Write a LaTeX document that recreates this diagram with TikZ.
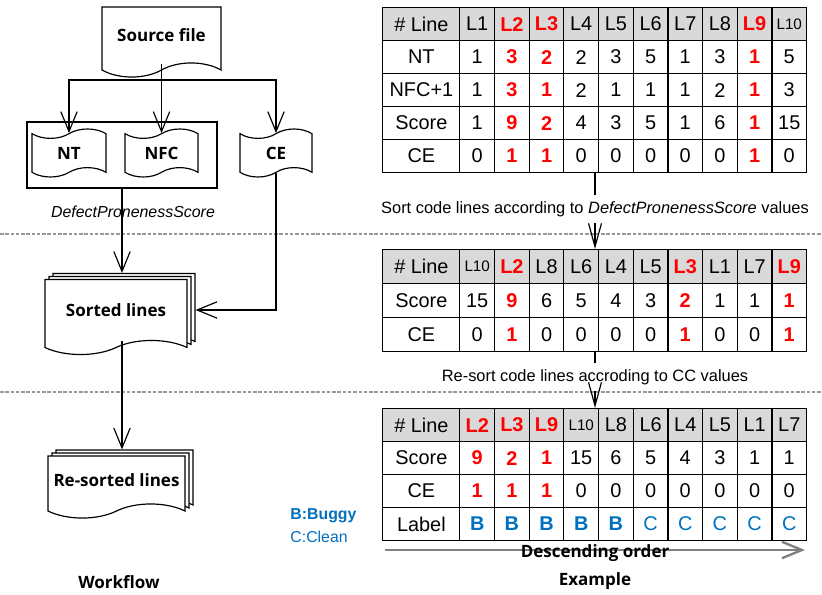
\documentclass[tikz,border=0pt]{standalone}
\usepackage{fontspec}
\setmainfont{Liberation Sans}
\newfontfamily\labelfont{Open Sans}
\usepackage{tikz}
\usetikzlibrary{
  arrows.meta,
  positioning,
  shapes.symbols,
  calc
}
\usepackage{xcolor}
\definecolor{cellGray}{rgb}{0.85,0.85,0.85}
\definecolor{hotRed}{rgb}{1,0,0}
\definecolor{labelBlue}{rgb}{0,0.44,0.75}
\definecolor{guideGray}{rgb}{0.6,0.6,0.6}
\definecolor{orderGray}{rgb}{0.5,0.5,0.5}
\newcommand{\hotVal}[1]{\textcolor{hotRed}{\bfseries #1}}
\newcommand{\buggyVal}[1]{\textcolor{labelBlue}{\bfseries #1}}
\newcommand{\cleanVal}[1]{\textcolor{labelBlue}{#1}}
\newcommand{\smallLab}[1]{{\fontsize{13}{13}\selectfont #1}}
\newcommand{\tableRow}[5]{%
  \foreach \val [count=\col from 0] in {#5}{%
    \pgfmathsetmacro{\cx}{\col==0 ? 382.3 : 459.3+(\col-1)*34.67}%
    \pgfmathsetmacro{\cw}{\col==0 ? 77 : 34.67}%
    \node[cellbox, #4, minimum width=\cw*0.03cm, anchor=north west]
      (#1-#2-\col) at (\cx,#3) {\val};%
  }}
\newcommand{\docStack}[5]{%
  \node[docshape, minimum width=#3, minimum height=#4] (#1-b2) at ($#2+(8,-6)$) {};
  \node[docshape, minimum width=#3, minimum height=#4] (#1-b1) at ($#2+(4,-3)$) {};
  \node[docshape, minimum width=#3, minimum height=#4] (#1) at #2 {#5};}
\tikzset{
  cellbox/.style={
    draw,
    line width=1pt,
    minimum height=33*0.03cm,
    inner sep=0pt,
    font=\fontsize{17}{17}\selectfont
  },
  headrow/.style={fill=cellGray},
  tallrow/.style={minimum height=34*0.03cm}
}
\tikzset{
  docshape/.style={
    tape,
    tape bend top=none,
    tape bend height=12pt,
    draw,
    fill=white,
    inner sep=2pt,
    font=\labelfont\bfseries\fontsize{14.5}{15}\selectfont
  },
  tapebox/.style={
    tape,
    tape bend height=8pt,
    draw,
    fill=white,
    inner sep=2pt,
    font=\labelfont\bfseries\fontsize{14.5}{15}\selectfont
  },
  note/.style={
    inner xsep=0pt,
    inner ysep=5pt,
    font=\fontsize{14}{14}\selectfont
  },
  guide/.style={guideGray, dash pattern=on 3pt off 1.5pt},
  noteArrow/.style={-{Straight Barb[length=20pt,width=11pt]}},
  orderArrow/.style={orderGray, line width=2.5pt,
    -{Straight Barb[length=17pt,width=14pt,line width=2pt]}},
  title/.style={font=\labelfont\bfseries\fontsize{14.5}{15}\selectfont}
}

\begin{document}
\begin{tikzpicture}[x=0.03cm, y=-0.03cm, line width=1pt,
    >={Straight Barb[length=17pt,width=14pt]}]
  \useasboundingbox (0,0) rectangle (822,594);

  \draw[guide] (0,234) -- (822,234);
  \draw[guide] (0,392) -- (822,392);

  % workflow
  \node[docshape, minimum width=119*0.03cm, minimum height=70*0.03cm] (src)
    at (161.5,35) {Source file};
  \node[draw, minimum width=190*0.03cm, minimum height=66*0.03cm] (dps)
    at (122,155) {};
  \node[tapebox, minimum width=74*0.03cm, minimum height=48*0.03cm] (nt)
    at (69,153) {NT};
  \node[tapebox, minimum width=73*0.03cm, minimum height=48*0.03cm] (nfc)
    at (161.5,153) {NFC};
  \node[tapebox, minimum width=72*0.03cm, minimum height=48*0.03cm] (ce)
    at (276,153) {CE};
  \node[font=\itshape\fontsize{13.6}{14}\selectfont] (dpsname)
    at (133,212) {DefectPronenessScore};
  \docStack{sorted}{(116,310)}{142*0.03cm}{75*0.03cm}{Sorted lines}
  \docStack{resorted}{(116.5,480)}{137*0.03cm}{62*0.03cm}{Re-sorted lines}

  \coordinate (fork) at (161.5,80);
  \draw[->] (src.south) -- (nfc.north);
  \draw[->] (fork) -| (nt.north);
  \draw[->] (fork) -| (ce.north);
  \draw[->] (dps.south) -- (dps.south |- sorted-b2.north);
  \draw[->] (ce.south) |- (sorted-b2.east |- sorted.east);
  \draw[->] (dps.south |- sorted.south) -- (dps.south |- resorted-b2.north);

  \node[anchor=west, text=labelBlue, font=\bfseries\fontsize{13.5}{14}\selectfont]
    (buggy) at (286,516) {B:Buggy};
  \node[anchor=west, text=labelBlue, font=\fontsize{13.5}{14}\selectfont]
    (clean) at (286,537) {C:Clean};
  \node[title] (workflow) at (119,582) {Workflow};

  % example tables
  \tableRow{ta}{0}{7}{headrow}{\# Line, L1, \hotVal{L2}, \hotVal{L3}, L4, L5, L6, L7, L8, \hotVal{L9}, \smallLab{L10}}
  \tableRow{ta}{1}{40}{}{NT, 1, \hotVal{3}, \hotVal{2}, 2, 3, 5, 1, 3, \hotVal{1}, 5}
  \tableRow{ta}{2}{73}{}{NFC+1, 1, \hotVal{3}, \hotVal{1}, 2, 1, 1, 1, 2, \hotVal{1}, 3}
  \tableRow{ta}{3}{106}{}{Score, 1, \hotVal{9}, \hotVal{2}, 4, 3, 5, 1, 6, \hotVal{1}, 15}
  \tableRow{ta}{4}{139}{}{CE, 0, \hotVal{1}, \hotVal{1}, 0, 0, 0, 0, 0, \hotVal{1}, 0}

  \tableRow{tb}{0}{249}{headrow, tallrow}{\# Line, \smallLab{L10}, \hotVal{L2}, L8, L6, L4, L5, \hotVal{L3}, L1, L7, \hotVal{L9}}
  \tableRow{tb}{1}{283}{tallrow}{Score, 15, \hotVal{9}, 6, 5, 4, 3, \hotVal{2}, 1, 1, \hotVal{1}}
  \tableRow{tb}{2}{317}{tallrow}{CE, 0, \hotVal{1}, 0, 0, 0, 0, \hotVal{1}, 0, 0, \hotVal{1}}

  \tableRow{tc}{0}{408}{headrow}{\# Line, \hotVal{L2}, \hotVal{L3}, \hotVal{L9}, \smallLab{L10}, L8, L6, L4, L5, L1, L7}
  \tableRow{tc}{1}{441}{}{Score, \hotVal{9}, \hotVal{2}, \hotVal{1}, 15, 6, 5, 4, 3, 1, 1}
  \tableRow{tc}{2}{474}{}{CE, \hotVal{1}, \hotVal{1}, \hotVal{1}, 0, 0, 0, 0, 0, 0, 0}
  \tableRow{tc}{3}{507}{}{Label, \buggyVal{B}, \buggyVal{B}, \buggyVal{B}, \buggyVal{B}, \buggyVal{B}, \cleanVal{C}, \cleanVal{C}, \cleanVal{C}, \cleanVal{C}, \cleanVal{C}}

  \node[note] (sortnote) at (595,209)
    {Sort code lines according to \textit{DefectPronenessScore} values};
  \node[note] (resortnote) at (595,377)
    {Re-sort code lines accroding to CC values};
  \draw (sortnote.north |- ta-4-4.south) -- (sortnote);
  \draw[noteArrow] (sortnote) -- (sortnote.south |- tb-0-4.north);
  \draw (resortnote.north |- tb-2-4.south) -- (resortnote);
  \draw[noteArrow] (resortnote) -- (resortnote.south |- tc-0-4.north);

  \coordinate (orderstart) at (385,550);
  \coordinate (orderend) at (805,550);
  \draw[orderArrow] (orderstart) -- (orderend);
  \node[title] (order) at (595,553) {Descending order};
  \node[title] (example) at (595,581) {Example};
\end{tikzpicture}
\end{document}
